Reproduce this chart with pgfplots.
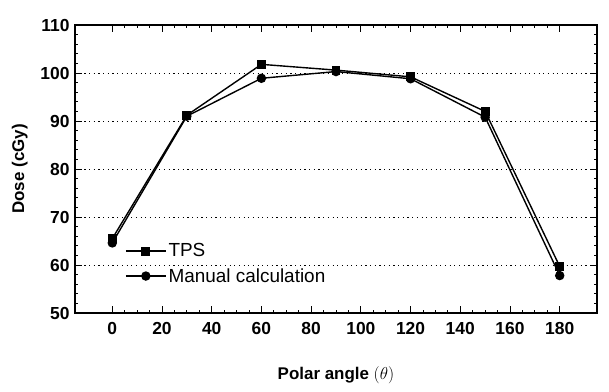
\documentclass[border=0pt]{standalone}
\usepackage{pgfplots}
\pgfplotsset{compat=1.18}
\usepackage{fontspec}
\setmainfont{Liberation Sans}
\begin{document}
\begin{tikzpicture}
\begin{axis}[
  scale only axis,
  width=522bp, height=288bp,
  xmin=-15, xmax=195, ymin=50, ymax=110,
  xtick={0,20,...,180}, ytick={50,60,...,110},
  minor x tick num=3, minor y tick num=4,
  tick align=inside, tick pos=both,
  major tick length=7bp, minor tick length=3.5bp,
  ymajorgrids, major grid style={dash pattern=on 1.2pt off 3.5pt, black, line width=1pt},
  axis line style={line width=1.3pt},
  every tick/.style={black, line width=0.9pt},
  /pgf/number format/assume math mode=true,
  ticklabel style={font=\fontsize{17.5}{20}\selectfont\bfseries},
  xticklabel style={yshift=-6bp},
  yticklabel style={xshift=-2bp},
  xlabel={\textbf{Polar angle} $\big(\theta\big)$},
  ylabel={\textbf{Dose (cGy)}},
  label style={font=\fontsize{17}{20}\selectfont},
  xlabel style={yshift=-25bp},
  ylabel style={yshift=6bp},
  legend style={at={(0.09,0.255)}, anchor=north west, draw=none, fill=none, font=\fontsize{19}{22}\selectfont, row sep=6bp},
  legend cell align=left,
  legend image code/.code={\draw[mark repeat=2,mark phase=2,#1] plot coordinates {(0bp,0bp) (20bp,0bp) (40bp,0bp)};},
]
\addplot[black, line width=1.4pt, mark=square*, mark size=3.8bp] coordinates {
(0,65.5) (30,91.2) (60,101.8) (90,100.6) (120,99.2) (150,92.0) (180,59.7)};
\addlegendentry{TPS}
\addplot[black, line width=1.4pt, mark=*, mark size=4bp] coordinates {
(0,64.6) (30,91.0) (60,98.9) (90,100.3) (120,98.8) (150,90.8) (180,57.8)};
\addlegendentry{Manual calculation}
\end{axis}
\path (current axis.south west) +(-75bp,-79bp) (current axis.north east) +(12bp,25bp);
\end{tikzpicture}
\end{document}
